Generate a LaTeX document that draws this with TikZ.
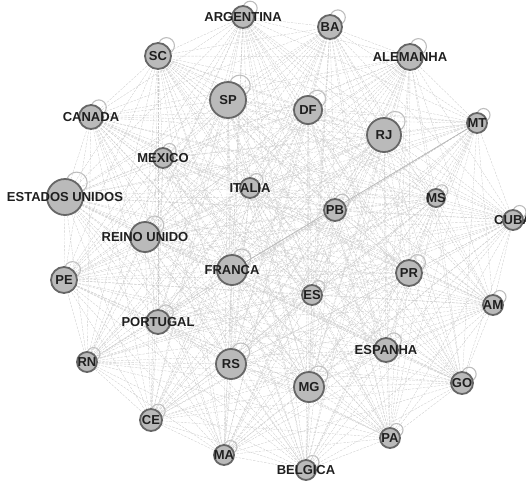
\documentclass[tikz,border=0pt]{standalone}
\usepackage{fontspec}
\setmainfont{Liberation Sans}
\usetikzlibrary{backgrounds}

\newcommand{\vertlist}{arg,ba,sc,ale,sp,can,df,rj,mt,mex,eua,ita,ms,pb,cub,ru,pe,fra,pr,es,am,por,esp,rn,rs,mg,go,ce,pa,ma,bel}

\begin{document}
\begin{tikzpicture}[x=1pt,y=-1pt,
  vert/.style={circle,draw=black!60,fill=black!27,line width=1.8pt,inner sep=0pt,minimum size=#1},
  lbl/.style={font=\bfseries\fontsize{13}{15}\selectfont,text=black!88,inner sep=0pt},
  tie/.style={draw=black!20,line width=0.35pt,dash pattern=on 2.5pt off 1.2pt},
  strongtie/.style={draw=black!28,line width=0.7pt},
  selfloop/.style={draw=black!26,line width=1.1pt}]
  \useasboundingbox (0,0) rectangle (526,483);

  % vertices: name/x/y/radius/label
  \foreach \n/\x/\y/\r/\t [evaluate=\r as \d using 2*\r] in {
      arg/243/17/11/ARGENTINA, ba/330/27/12/BA, sc/158/56/13/SC,
      ale/410/57/13/ALEMANHA, sp/228/100/18/SP, can/91/117/12/CANADA,
      df/308/110/14/DF, rj/384/135/17/RJ, mt/477/123/10/MT,
      mex/163/158/10/MEXICO, eua/65/197/18/ESTADOS UNIDOS, ita/250/188/10/ITALIA,
      ms/436/198/9/MS, pb/335/210/11/PB, cub/513/220/10/CUBA,
      ru/145/237/15/REINO UNIDO, pe/64/280/13/PE, fra/232/270/15/FRANCA,
      pr/409/273/13/PR, es/312/295/10/ES, am/493/305/10/AM,
      por/158/322/12/PORTUGAL, esp/386/350/12/ESPANHA, rn/87/362/10/RN,
      rs/231/364/15/RS, mg/309/387/15/MG, go/462/383/11/GO,
      ce/151/420/11/CE, pa/390/438/10/PA, ma/224/455/10/MA,
      bel/306/470/10/BELGICA}
  {
    \node[vert=\d pt] (\n) at (\x,\y) {};
    \node[lbl] (\n-t) at (\n.center) {\t};
    % self loop
    \begin{scope}[on background layer]
      \draw[selfloop] ([shift={(0.65*\r,-0.8*\r)}]\n.center) circle[radius={0.5*\r pt+1.5pt}];
    \end{scope}
  }

  % ties between all pairs
  \begin{scope}[on background layer]
    \foreach \a [count=\i] in \vertlist {
      \foreach \b [count=\j] in \vertlist {
        \ifnum\j>\i \draw[tie] (\a.center) -- (\b.center); \fi
      }
    }
    \draw[strongtie] (mt) -- (fra);
  \end{scope}
\end{tikzpicture}
\end{document}
